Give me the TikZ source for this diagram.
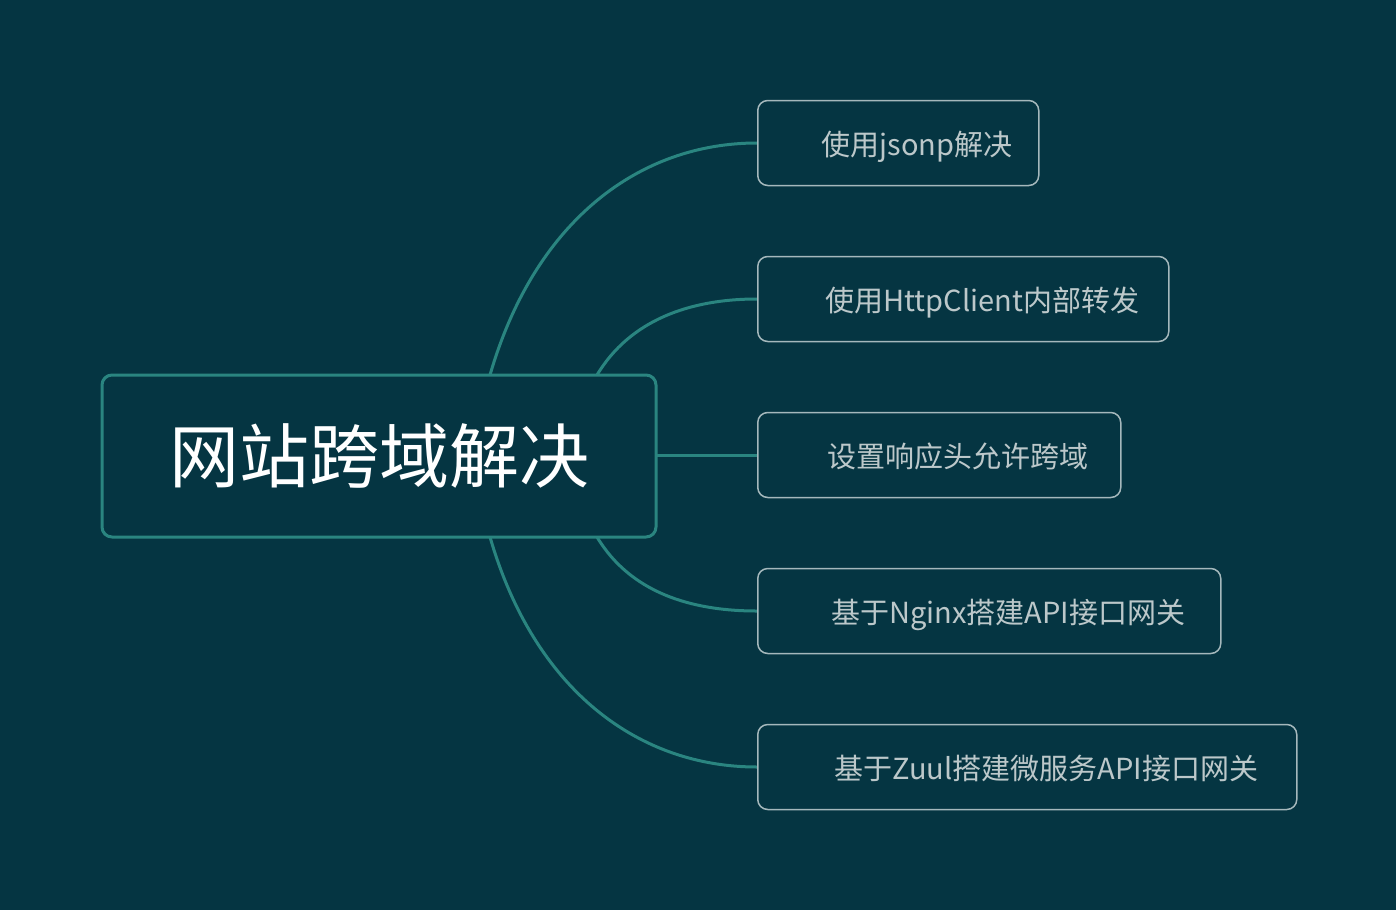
\documentclass[tikz,border=0pt]{standalone}
\usepackage{fontspec}
\setmainfont{Noto Sans CJK SC}
\definecolor{bg}{HTML}{053542}
\definecolor{teal}{HTML}{2A8580}
\definecolor{cborder}{HTML}{A5B8BC}
\definecolor{ctext}{HTML}{BCC8CA}
\begin{document}
\begin{tikzpicture}[x=1pt,y=-1pt,
  rootbox/.style={draw=teal,line width=3pt,rounded corners=10pt,fill=bg,minimum width=554pt,minimum height=162pt,text=white,font=\fontsize{70}{80}\selectfont,inner sep=0pt},
  childbox/.style={draw=cborder,line width=1.5pt,rounded corners=10pt,fill=bg,minimum height=85pt,text=ctext,font=\fontsize{29}{34}\selectfont,anchor=west,inner xsep=0pt,text depth=0pt},
  link/.style={draw=teal,line width=3pt}]
\fill[bg] (0,0) rectangle (1396,910);
\useasboundingbox (0,0) rectangle (1396,910);
\coordinate (s1) at (490,375);
\coordinate (s2) at (597,375);
\coordinate (s3) at (656,455);
\coordinate (s4) at (597,537);
\coordinate (s5) at (490,537);
\draw[link] (s1) .. controls (535,220) and (640,143) .. (757,143) coordinate (e1);
\draw[link] (s2) .. controls (630,320) and (690,299) .. (757,299) coordinate (e2);
\draw[link] (s3) -- (757,455) coordinate (e3);
\draw[link] (s4) .. controls (630,592) and (690,611) .. (757,611) coordinate (e4);
\draw[link] (s5) .. controls (535,692) and (640,767) .. (757,767) coordinate (e5);
\node[rootbox] (root) at (379,456) {网站跨域解决};
\node[childbox,minimum width=281pt] (c1) at (757,143) {\hspace*{38pt}使用jsonp解决\hfill};
\node[childbox,minimum width=411pt] (c2) at (757,299) {\hspace*{38pt}使用HttpClient内部转发\hfill};
\node[childbox,minimum width=363pt] (c3) at (757,455) {\hspace*{38pt}设置响应头允许跨域\hfill};
\node[childbox,minimum width=463pt] (c4) at (757,611) {\hspace*{38pt}基于Nginx搭建API接口网关\hfill};
\node[childbox,minimum width=539pt] (c5) at (757,767) {\hspace*{38pt}基于Zuul搭建微服务API接口网关\hfill};
\end{tikzpicture}
\end{document}
